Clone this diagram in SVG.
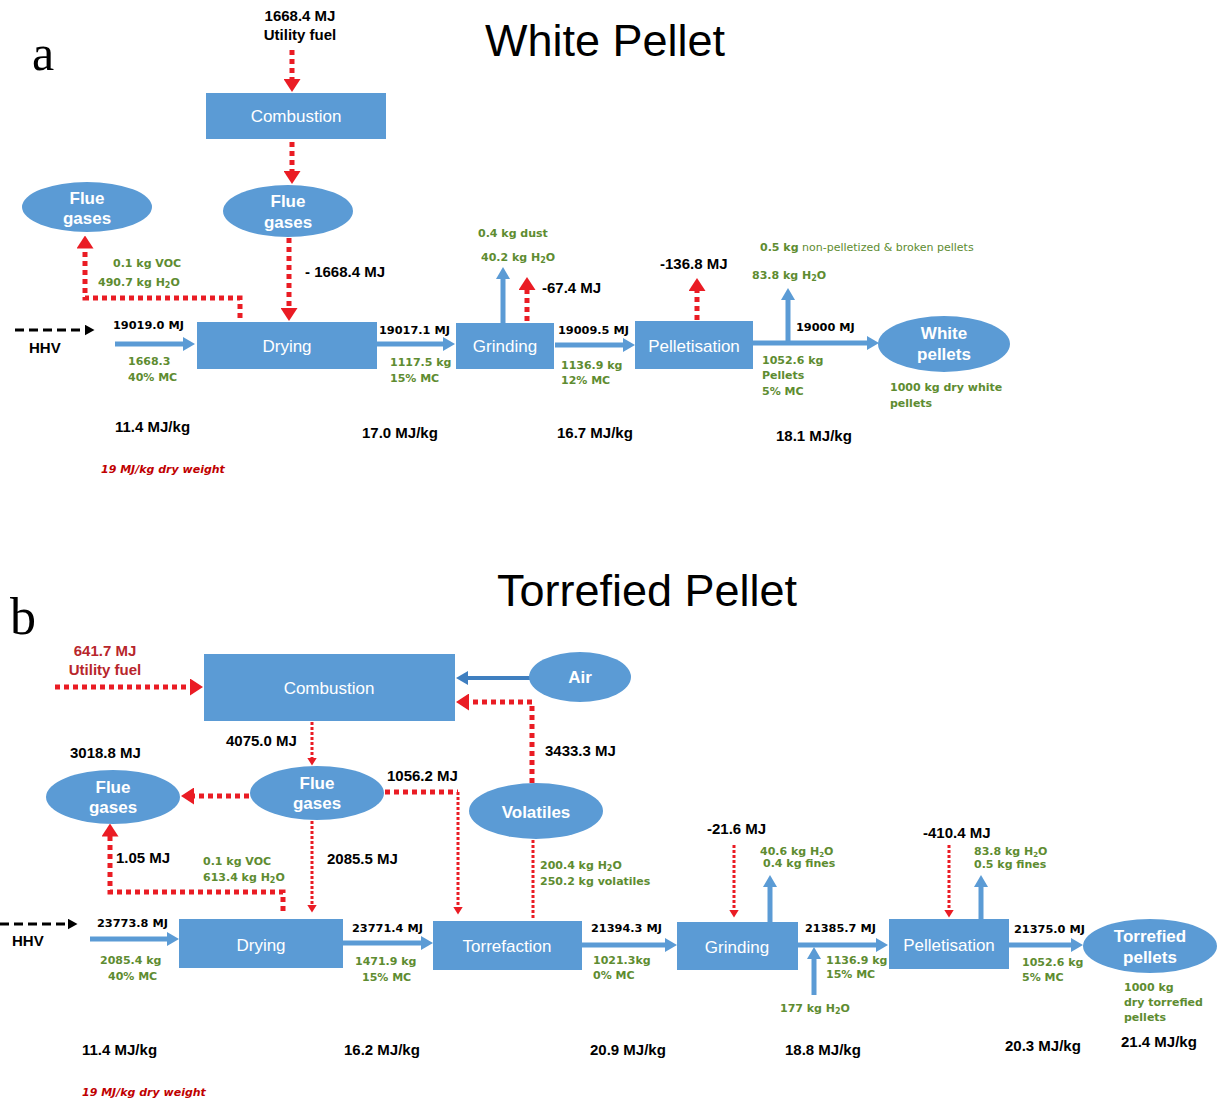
<svg xmlns="http://www.w3.org/2000/svg" width="1227" height="1101" viewBox="0 0 1227 1101">
<style>
text{font-family:"Liberation Sans",Arial,sans-serif;}
.box{fill:#5b9bd5;}
.nt{fill:#fff;font-size:17px;text-anchor:middle;}
.et{fill:#fff;font-size:17px;font-weight:bold;text-anchor:middle;}
.bl{fill:#000;font-weight:bold;font-size:11.3px;font-family:"DejaVu Sans",Verdana,sans-serif;}
.bm{fill:#000;font-weight:bold;font-size:15px;}
.gr{fill:#5e8c31;font-weight:bold;font-size:11px;font-family:"DejaVu Sans",Verdana,sans-serif;}
.rd{fill:#c00000;font-weight:bold;font-style:italic;font-size:11px;font-family:"DejaVu Sans",Verdana,sans-serif;}
.title{fill:#000;font-size:45px;text-anchor:middle;}
.letter{font-family:"Liberation Serif","Times New Roman",serif;fill:#000;}
.fb{fill:none;stroke:#5b9bd5;stroke-width:5;}
.fr{fill:none;stroke:#ea1c24;stroke-width:5;stroke-dasharray:5 4;}
.frt{fill:none;stroke:#ea1c24;stroke-width:3;stroke-dasharray:3 2;}
.fk{fill:none;stroke:#000;stroke-width:3;stroke-dasharray:9 5;}
</style>
<defs>
<marker id="ab" viewBox="0 0 12 14" markerWidth="12" markerHeight="14" refX="0.5" refY="7" orient="auto" markerUnits="userSpaceOnUse"><path d="M0,0 L12,7 L0,14 z" fill="#5b9bd5"/></marker>
<marker id="abd" viewBox="0 0 12 14" markerWidth="12" markerHeight="14" refX="0.5" refY="7" orient="auto" markerUnits="userSpaceOnUse"><path d="M0,0 L12,7 L0,14 z" fill="#3f7fc0"/></marker>
<marker id="ar" viewBox="0 0 13 17" markerWidth="13" markerHeight="17" refX="0.5" refY="8.5" orient="auto" markerUnits="userSpaceOnUse"><path d="M0,0 L13,8.5 L0,17 z" fill="#ea1c24"/></marker>
<marker id="art" viewBox="0 0 8 10" markerWidth="8" markerHeight="10" refX="0.5" refY="5" orient="auto" markerUnits="userSpaceOnUse"><path d="M0,0 L8,5 L0,10 z" fill="#ea1c24"/></marker>
<marker id="ak" viewBox="0 0 10 11" markerWidth="10" markerHeight="11" refX="0.5" refY="5.5" orient="auto" markerUnits="userSpaceOnUse"><path d="M0,0 L10,5.5 L0,11 z" fill="#000"/></marker>
</defs>
<rect width="1227" height="1101" fill="#fff"/>

<!-- ===== Part a ===== -->
<text class="letter" x="32" y="70" font-size="50">a</text>
<text class="title" x="605" y="56">White Pellet</text>

<g id="connectors-a">
<path class="fr" d="M292,50 V79.5" marker-end="url(#ar)"/>
<path class="fr" d="M292,142 V171.5" marker-end="url(#ar)"/>
<path class="fr" d="M289,238 V308.5" marker-end="url(#ar)"/>
<path class="fr" d="M240,318 V298 H85 V248" marker-end="url(#ar)"/>
<path class="fk" d="M15,330 H85" marker-end="url(#ak)"/>
<path class="fb" d="M115,344 H183.5" marker-end="url(#ab)"/>
<path class="fb" d="M377,344 H443.5" marker-end="url(#ab)"/>
<path class="fb" d="M503,323 V278.5" marker-end="url(#ab)"/>
<path class="fr" d="M527,321 V289.5" marker-end="url(#ar)"/>
<path class="fb" d="M555,345 H623.5" marker-end="url(#ab)"/>
<path class="fr" d="M697,320 V290.5" marker-end="url(#ar)"/>
<path class="fb" d="M753,343 H867.5" marker-end="url(#ab)"/>
<path class="fb" d="M788,343 V299.5" marker-end="url(#ab)"/>
</g>

<g id="a-utility-fuel">
<text class="bm" x="300" y="21" text-anchor="middle">1668.4 MJ</text>
<text class="bm" x="300" y="40" text-anchor="middle">Utility fuel</text>
</g>
<g id="a-combustion"><rect class="box" x="206" y="93" width="180" height="46"/><text class="nt" x="296" y="122">Combustion</text></g>
<g id="a-flue-gases-1"><ellipse class="box" cx="288" cy="211" rx="65" ry="26"/><text class="et" x="288" y="207">Flue</text><text class="et" x="288" y="228">gases</text></g>
<g id="a-flue-gases-2"><ellipse class="box" cx="87" cy="207" rx="65" ry="25"/><text class="et" x="87" y="204">Flue</text><text class="et" x="87" y="224">gases</text></g>
<g id="a-drying"><rect class="box" x="197" y="322" width="180" height="47"/><text class="nt" x="287" y="352">Drying</text></g>
<g id="a-grinding"><rect class="box" x="456" y="323" width="98" height="46"/><text class="nt" x="505" y="352">Grinding</text></g>
<g id="a-pelletisation"><rect class="box" x="635" y="321" width="118" height="48"/><text class="nt" x="694" y="352">Pelletisation</text></g>
<g id="a-white-pellets"><ellipse class="box" cx="944" cy="344" rx="66" ry="28"/><text class="et" x="944" y="339">White</text><text class="et" x="944" y="360">pellets</text></g>

<g id="a-labels">
<text class="bm" x="305" y="277">- 1668.4 MJ</text>
<text class="gr" x="113" y="267">0.1 kg VOC</text>
<text class="gr" x="98" y="286">490.7 kg H<tspan font-size="8" dy="2">2</tspan><tspan dy="-2">O</tspan></text>
<text class="bm" x="29" y="353">HHV</text>
<text class="bl" x="113" y="329">19019.0 MJ</text>
<text class="gr" x="128" y="365">1668.3</text>
<text class="gr" x="128" y="381">40% MC</text>
<text class="bl" x="379" y="334">19017.1 MJ</text>
<text class="gr" x="390" y="366">1117.5 kg</text>
<text class="gr" x="390" y="382">15% MC</text>
<text class="gr" x="478" y="237">0.4 kg dust</text>
<text class="gr" x="481" y="261">40.2 kg H<tspan font-size="8" dy="2">2</tspan><tspan dy="-2">O</tspan></text>
<text class="bm" x="542" y="293">-67.4 MJ</text>
<text class="bl" x="558" y="334">19009.5 MJ</text>
<text class="gr" x="561" y="369">1136.9 kg</text>
<text class="gr" x="561" y="384">12% MC</text>
<text class="bm" x="660" y="269">-136.8 MJ</text>
<text class="gr" x="760" y="251">0.5 kg<tspan font-weight="normal"> non-pelletized &amp; broken pellets</tspan></text>
<text class="gr" x="752" y="279">83.8 kg H<tspan font-size="8" dy="2">2</tspan><tspan dy="-2">O</tspan></text>
<text class="bl" x="796" y="331">19000 MJ</text>
<text class="gr" x="762" y="364">1052.6 kg</text>
<text class="gr" x="762" y="379">Pellets</text>
<text class="gr" x="762" y="395">5% MC</text>
<text class="gr" x="890" y="391">1000 kg dry white</text>
<text class="gr" x="890" y="407">pellets</text>
<text class="bm" x="115" y="432">11.4 MJ/kg</text>
<text class="bm" x="362" y="438">17.0 MJ/kg</text>
<text class="bm" x="557" y="438">16.7 MJ/kg</text>
<text class="bm" x="776" y="441">18.1 MJ/kg</text>
<text class="rd" x="101" y="473">19 MJ/kg dry weight</text>
</g>

<!-- ===== Part b ===== -->
<text class="letter" x="10" y="634" font-size="52">b</text>
<text class="title" x="647" y="606">Torrefied Pellet</text>

<g id="connectors-b">
<path class="fr" d="M55,687 H190.5" marker-end="url(#ar)"/>
<path d="M530,678 H467.5" fill="none" stroke="#3f7fc0" stroke-width="4" marker-end="url(#abd)"/>
<path class="fr" d="M532,783 V702 H468.5" marker-end="url(#ar)"/>
<path class="frt" d="M533,840 V919"/>
<path class="fr" d="M249,796 H193.5" marker-end="url(#ar)"/>
<path class="frt" d="M312,722 V758" marker-end="url(#art)"/>
<path class="fr" d="M385,792 H458"/>
<path class="frt" d="M458,792 V907" marker-end="url(#art)"/>
<path class="frt" d="M312,821 V905" marker-end="url(#art)"/>
<path class="fr" d="M283,911 V892 H110 V836" marker-end="url(#ar)"/>
<path class="fk" d="M0,924 H68" marker-end="url(#ak)"/>
<path class="fb" d="M90,939 H167.5" marker-end="url(#ab)"/>
<path class="fb" d="M343,943 H421.5" marker-end="url(#ab)"/>
<path class="fb" d="M582,945 H665.5" marker-end="url(#ab)"/>
<path class="frt" d="M734,845 V910" marker-end="url(#art)"/>
<path class="fb" d="M770,922 V886.5" marker-end="url(#ab)"/>
<path class="fb" d="M798,945 H876.5" marker-end="url(#ab)"/>
<path class="fb" d="M814,995 V958.5" marker-end="url(#ab)"/>
<path class="frt" d="M949,845 V910" marker-end="url(#art)"/>
<path class="fb" d="M981,919 V886.5" marker-end="url(#ab)"/>
<path class="fb" d="M1009,945 H1071.5" marker-end="url(#ab)"/>
</g>

<g id="b-utility-fuel">
<text class="bm" x="105" y="656" text-anchor="middle" style="fill:#b8262b">641.7 MJ</text>
<text class="bm" x="105" y="675" text-anchor="middle" style="fill:#b8262b">Utility fuel</text>
</g>
<g id="b-combustion"><rect class="box" x="204" y="654" width="251" height="67"/><text class="nt" x="329" y="694">Combustion</text></g>
<g id="b-air"><ellipse class="box" cx="580" cy="677" rx="51" ry="25"/><text class="et" x="580" y="683">Air</text></g>
<g id="b-volatiles"><ellipse class="box" cx="536" cy="811" rx="67" ry="28"/><text class="et" x="536" y="818">Volatiles</text></g>
<g id="b-flue-gases-1"><ellipse class="box" cx="317" cy="793" rx="67" ry="27"/><text class="et" x="317" y="789">Flue</text><text class="et" x="317" y="809">gases</text></g>
<g id="b-flue-gases-2"><ellipse class="box" cx="113" cy="797" rx="67" ry="27"/><text class="et" x="113" y="793">Flue</text><text class="et" x="113" y="813">gases</text></g>
<g id="b-drying"><rect class="box" x="179" y="919" width="164" height="49"/><text class="nt" x="261" y="951">Drying</text></g>
<g id="b-torrefaction"><rect class="box" x="433" y="921" width="149" height="49"/><text class="nt" x="507" y="952">Torrefaction</text></g>
<g id="b-grinding"><rect class="box" x="677" y="922" width="121" height="48"/><text class="nt" x="737" y="953">Grinding</text></g>
<g id="b-pelletisation"><rect class="box" x="889" y="919" width="120" height="50"/><text class="nt" x="949" y="951">Pelletisation</text></g>
<g id="b-torrefied-pellets"><ellipse class="box" cx="1150" cy="946" rx="67" ry="27"/><text class="et" x="1150" y="942">Torrefied</text><text class="et" x="1150" y="963">pellets</text></g>

<g id="b-labels">
<text class="bm" x="226" y="746">4075.0 MJ</text>
<text class="bm" x="70" y="758">3018.8 MJ</text>
<text class="bm" x="387" y="781">1056.2 MJ</text>
<text class="bm" x="545" y="756">3433.3 MJ</text>
<text class="gr" x="540" y="869">200.4 kg H<tspan font-size="8" dy="2">2</tspan><tspan dy="-2">O</tspan></text>
<text class="gr" x="540" y="885">250.2 kg volatiles</text>
<text class="bm" x="327" y="864">2085.5 MJ</text>
<text class="bm" x="116" y="863">1.05 MJ</text>
<text class="gr" x="203" y="865">0.1 kg VOC</text>
<text class="gr" x="203" y="881">613.4 kg H<tspan font-size="8" dy="2">2</tspan><tspan dy="-2">O</tspan></text>
<text class="bm" x="12" y="946">HHV</text>
<text class="bl" x="97" y="927">23773.8 MJ</text>
<text class="gr" x="100" y="964">2085.4 kg</text>
<text class="gr" x="108" y="980">40% MC</text>
<text class="bl" x="352" y="932">23771.4 MJ</text>
<text class="gr" x="355" y="965">1471.9 kg</text>
<text class="gr" x="362" y="981">15% MC</text>
<text class="bl" x="591" y="932">21394.3 MJ</text>
<text class="gr" x="593" y="964">1021.3kg</text>
<text class="gr" x="593" y="979">0% MC</text>
<text class="bm" x="707" y="834">-21.6 MJ</text>
<text class="gr" x="760" y="855" font-size="10">40.6 kg H<tspan font-size="7" dy="2">2</tspan><tspan dy="-2">O</tspan></text>
<text class="gr" x="763" y="867" font-size="10">0.4 kg fines</text>
<text class="bl" x="805" y="932">21385.7 MJ</text>
<text class="gr" x="826" y="964" font-size="10">1136.9 kg</text>
<text class="gr" x="826" y="978" font-size="10">15% MC</text>
<text class="gr" x="780" y="1012">177 kg H<tspan font-size="8" dy="2">2</tspan><tspan dy="-2">O</tspan></text>
<text class="bm" x="923" y="838">-410.4 MJ</text>
<text class="gr" x="974" y="855" font-size="10">83.8 kg H<tspan font-size="7" dy="2">2</tspan><tspan dy="-2">O</tspan></text>
<text class="gr" x="974" y="868" font-size="10">0.5 kg fines</text>
<text class="bl" x="1014" y="933">21375.0 MJ</text>
<text class="gr" x="1022" y="966">1052.6 kg</text>
<text class="gr" x="1022" y="981">5% MC</text>
<text class="gr" x="1124" y="991">1000 kg</text>
<text class="gr" x="1124" y="1006">dry torrefied</text>
<text class="gr" x="1124" y="1021">pellets</text>
<text class="bm" x="82" y="1055">11.4 MJ/kg</text>
<text class="bm" x="344" y="1055">16.2 MJ/kg</text>
<text class="bm" x="590" y="1055">20.9 MJ/kg</text>
<text class="bm" x="785" y="1055">18.8 MJ/kg</text>
<text class="bm" x="1005" y="1051">20.3 MJ/kg</text>
<text class="bm" x="1121" y="1047">21.4 MJ/kg</text>
<text class="rd" x="82" y="1096">19 MJ/kg dry weight</text>
</g>
</svg>
